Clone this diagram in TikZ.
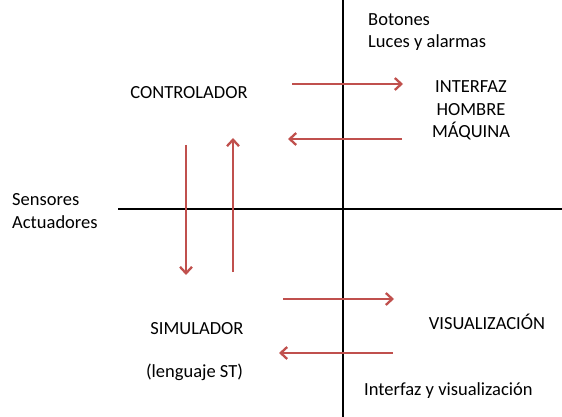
\documentclass[tikz,border=0pt]{standalone}
\usepackage{fontspec}
\setmainfont{Carlito}
\usetikzlibrary{arrows.meta}
\definecolor{arrred}{RGB}{192,80,77}
\tikzset{
  axis/.style={line width=2.4pt, black},
  flow/.style={line width=2.6pt, arrred, -{Straight Barb[length=6.5pt,width=12pt,line width=2.3pt]}},
  lbl/.style={font=\fontsize{18.5}{22}\selectfont, inner sep=0pt, anchor=base},
  lbll/.style={lbl, anchor=base west}
}
\begin{document}
\begin{tikzpicture}[x=1pt,y=-1pt]
\useasboundingbox (0,0) rectangle (562,417);
% axes
\coordinate (vt) at (343,0);
\coordinate (vb) at (343,417);
\coordinate (hl) at (118,209);
\coordinate (hr) at (562,209);
\draw[axis] (vt) -- (vb);
\draw[axis] (hl) -- (hr);
% labels
\node[lbll] (bot1) at (368,26) {Botones};
\node[lbll] (bot2) at (368,47.5) {Luces y alarmas};
\node[lbl] (ctrl) at (189,99) {CONTROLADOR};
\node[lbl] (ihm1) at (471,93) {INTERFAZ};
\node[lbl] (ihm2) at (471,115.5) {HOMBRE};
\node[lbl] (ihm3) at (471,138) {MÁQUINA};
\node[lbll] (sens1) at (12,205) {Sensores};
\node[lbll] (sens2) at (12,228) {Actuadores};
\node[lbl] (sim) at (197,334) {SIMULADOR};
\node[lbl] (st) at (194.5,377) {(lenguaje ST)};
\node[lbl] (vis) at (487,329) {VISUALIZACIÓN};
\node[lbll] (ivis) at (364,395) {Interfaz y visualización};
% arrow end points
\coordinate (a1s) at (292,84); \coordinate (a1e) at (403,84);
\coordinate (a2s) at (402,139); \coordinate (a2e) at (288,139);
\coordinate (a3s) at (186,145); \coordinate (a3e) at (186,275);
\coordinate (a4s) at (233,272); \coordinate (a4e) at (233,138);
\coordinate (a5s) at (283,299); \coordinate (a5e) at (394,299);
\coordinate (a6s) at (393,353); \coordinate (a6e) at (279,353);
\draw[flow] (a1s) -- (a1e);
\draw[flow] (a2s) -- (a2e);
\draw[flow] (a3s) -- (a3e);
\draw[flow] (a4s) -- (a4e);
\draw[flow] (a5s) -- (a5e);
\draw[flow] (a6s) -- (a6e);
\end{tikzpicture}
\end{document}
